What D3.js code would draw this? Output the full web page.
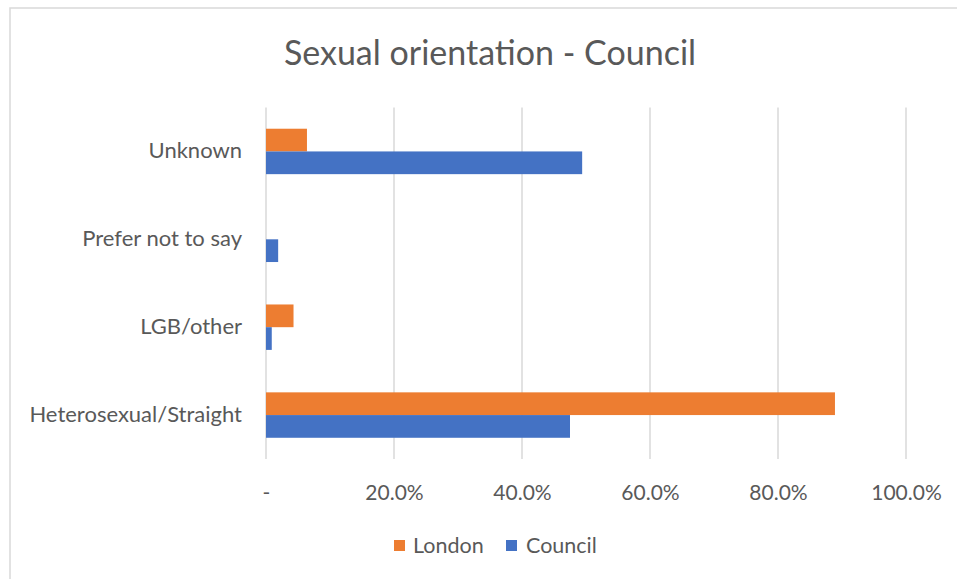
<!DOCTYPE html>
<html>
<head>
<meta charset="utf-8">
<script src="https://cdn.jsdelivr.net/npm/d3@7"></script>
<style>
  html, body { margin: 0; padding: 0; background: #fff; }
  svg { display: block; }
  text { font-family: Lato, "Open Sans", sans-serif; fill: #595959; }
</style>
</head>
<body>
<svg id="chart" width="957" height="579"></svg>
<script>
const categories = ["Unknown", "Prefer not to say", "LGB/other", "Heterosexual/Straight"];
const seriesNames = ["London", "Council"];
const londonValues = [0.064, 0.0, 0.043, 0.889];
const councilValues = [0.494, 0.019, 0.009, 0.475];
const tickValues = [0, 0.2, 0.4, 0.6, 0.8, 1.0];
const colors = { London: "#ED7D31", Council: "#4472C4" };

const svg = d3.select("#chart");
const W = 957, H = 579;

// chart border (extends past the right/bottom edges)
svg.append("rect")
  .attr("x", 10).attr("y", 8)
  .attr("width", W).attr("height", H)
  .attr("fill", "#fff").attr("stroke", "#d9d9d9").attr("stroke-width", 1.5);

const plot = { left: 266, right: 906, top: 107.5, bottom: 459 };

const x = d3.scaleLinear().domain([0, 1]).range([plot.left, plot.right]);
const y = d3.scaleBand().domain(categories)
  .range([plot.top, plot.bottom])
  .paddingInner(0.483).paddingOuter(0.2415);
const ySub = d3.scaleBand().domain(seriesNames).range([0, y.bandwidth()]);

// title
svg.append("text")
  .attr("x", 490).attr("y", 65)
  .attr("text-anchor", "middle")
  .attr("font-size", 34)
  .text("Sexual orientation - Council");

// gridlines
svg.append("g")
  .selectAll("line")
  .data(tickValues)
  .join("line")
  .attr("x1", d => x(d)).attr("x2", d => x(d))
  .attr("y1", plot.top).attr("y2", plot.bottom)
  .attr("stroke", "#d9d9d9").attr("stroke-width", 1.5);

// x axis labels
const fmt = d => d === 0 ? "-" : (d * 100).toFixed(1) + "%";
const xAxis = d3.axisBottom(x).tickValues(tickValues).tickFormat(fmt).tickSize(0).tickPadding(0);
const gx = svg.append("g")
  .attr("transform", `translate(0, ${plot.bottom + 26})`)
  .call(xAxis);
gx.select(".domain").remove();
gx.selectAll("text")
  .attr("font-size", 21)
  .attr("fill", "#595959")
  .style("font-family", "Lato, 'Open Sans', sans-serif");

// y axis labels
const yAxis = d3.axisLeft(y).tickSize(0).tickPadding(0);
const gy = svg.append("g")
  .attr("transform", `translate(${plot.left - 24}, 0)`)
  .call(yAxis);
gy.select(".domain").remove();
gy.selectAll("text")
  .attr("font-size", 22)
  .attr("fill", "#595959")
  .style("font-family", "Lato, 'Open Sans', sans-serif");

// bars
const rows = categories.map((c, i) => ({
  category: c,
  values: [
    { series: "London", value: londonValues[i] },
    { series: "Council", value: councilValues[i] }
  ]
}));

svg.append("g")
  .selectAll("g")
  .data(rows)
  .join("g")
  .attr("transform", d => `translate(0, ${y(d.category)})`)
  .selectAll("rect")
  .data(d => d.values)
  .join("rect")
  .attr("x", x(0))
  .attr("y", d => ySub(d.series))
  .attr("width", d => x(d.value) - x(0))
  .attr("height", ySub.bandwidth())
  .attr("fill", d => colors[d.series]);

// legend
const legendItems = [
  { name: "London", sx: 394, tx: 413 },
  { name: "Council", sx: 506, tx: 526 }
];
const lg = svg.append("g");
lg.selectAll("rect")
  .data(legendItems)
  .join("rect")
  .attr("x", d => d.sx).attr("y", 540)
  .attr("width", 11).attr("height", 11)
  .attr("fill", d => colors[d.name]);
lg.selectAll("text")
  .data(legendItems)
  .join("text")
  .attr("x", d => d.tx).attr("y", 553)
  .attr("font-size", 21.5)
  .text(d => d.name);
</script>
</body>
</html>
